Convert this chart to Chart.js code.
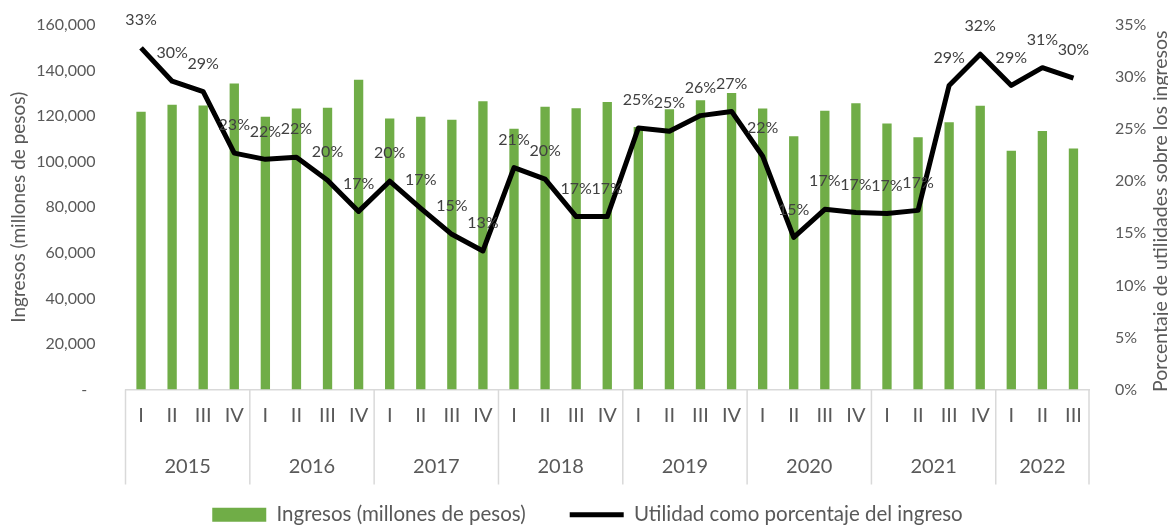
<!DOCTYPE html>
<html lang="es">
<head>
<meta charset="utf-8">
<title>Ingresos y utilidad</title>
<script src="https://cdn.jsdelivr.net/npm/chart.js"></script>
<style>
  body { margin: 0; background: #fff; }
  .wrap { width: 1168px; height: 526px; }
</style>
</head>
<body>
<div class="wrap"><canvas id="chart"></canvas></div>
<script>
const quarters = ['I', 'II', 'III', 'IV', 'I', 'II', 'III', 'IV', 'I', 'II', 'III', 'IV',
  'I', 'II', 'III', 'IV', 'I', 'II', 'III', 'IV', 'I', 'II', 'III', 'IV',
  'I', 'II', 'III', 'IV', 'I', 'II', 'III'];
const years = ['2015', '2016', '2017', '2018', '2019', '2020', '2021', '2022'];
const quartersPerYear = [4, 4, 4, 4, 4, 4, 4, 3];

// ingresos, millones de pesos
const ingresos = [121900, 125000, 124700, 134300, 119700, 123400, 123700, 136000,
  119000, 119700, 118400, 126500, 114500, 124100, 123500, 126200,
  115200, 123000, 127000, 130100, 123400, 111200, 122400, 125600,
  116800, 110700, 117300, 124600, 104800, 113500, 105800];
// utilidad como % del ingreso
const utilidad = [32.8, 29.6, 28.6, 22.7, 22.1, 22.3, 20.1, 17.1,
  20.0, 17.4, 14.9, 13.3, 21.3, 20.2, 16.6, 16.6,
  25.1, 24.8, 26.3, 26.7, 22.4, 14.6, 17.3, 17.0,
  16.9, 17.2, 29.2, 32.2, 29.2, 30.9, 29.9];

const gray = '#595959';
Chart.defaults.font.family = 'Lato';
Chart.defaults.color = gray;

// etiquetas de porcentaje sobre la linea
const pointLabels = {
  id: 'pointLabels',
  afterDatasetsDraw(chart) {
    const ctx = chart.ctx;
    const meta = chart.getDatasetMeta(1);
    ctx.save();
    ctx.font = '16px Lato';
    ctx.fillStyle = '#404040';
    ctx.textAlign = 'center';
    ctx.textBaseline = 'middle';
    meta.data.forEach((pt, i) => {
      ctx.fillText(Math.round(utilidad[i]) + '%', pt.x, pt.y - 28);
    });
    ctx.restore();
  }
};

// segunda fila del eje x: años y separadores
const yearAxis = {
  id: 'yearAxis',
  afterDraw(chart) {
    const x = chart.scales.x;
    const ctx = chart.ctx;
    const half = (x.getPixelForValue(1) - x.getPixelForValue(0)) / 2;
    ctx.save();
    ctx.strokeStyle = '#d9d9d9';
    ctx.lineWidth = 1.5;
    ctx.font = '20px Lato';
    ctx.fillStyle = gray;
    ctx.textAlign = 'center';
    ctx.textBaseline = 'middle';
    let start = 0;
    years.forEach((yr, i) => {
      const end = start + quartersPerYear[i] - 1;
      const l = x.getPixelForValue(start) - half;
      const r = x.getPixelForValue(end) + half;
      ctx.beginPath();
      ctx.moveTo(l, x.top);
      ctx.lineTo(l, x.top + 95);
      if (i === years.length - 1) {
        ctx.moveTo(r, x.top);
        ctx.lineTo(r, x.top + 95);
      }
      ctx.stroke();
      ctx.fillText(yr, (l + r) / 2, x.top + 77);
      start = end + 1;
    });
    ctx.restore();

    // titulo del eje derecho (de abajo hacia arriba)
    const a = chart.chartArea;
    ctx.save();
    ctx.translate(1161, (a.top + a.bottom) / 2 + 4);
    ctx.rotate(-Math.PI / 2);
    ctx.font = '19.5px Lato';
    ctx.fillStyle = gray;
    ctx.textAlign = 'center';
    ctx.textBaseline = 'middle';
    ctx.fillText('Porcentaje de utilidades sobre los ingresos', 0, 0);
    ctx.restore();
  }
};

const ctx = document.getElementById('chart').getContext('2d');
new Chart(ctx, {
  data: {
    labels: quarters,
    datasets: [
      {
        type: 'bar',
        label: 'Ingresos (millones de pesos)',
        data: ingresos,
        backgroundColor: '#70ad47',
        categoryPercentage: 1,
        barPercentage: 0.3,
        yAxisID: 'y',
        order: 1,
        pointStyle: 'rect'
      },
      {
        type: 'line',
        label: 'Utilidad como porcentaje del ingreso',
        data: utilidad,
        borderColor: '#000',
        backgroundColor: '#000',
        borderWidth: 5,
        borderJoinStyle: 'round',
        pointRadius: 0,
        tension: 0,
        yAxisID: 'y1',
        order: 0,
        pointStyle: 'line'
      }
    ]
  },
  options: {
    responsive: true,
    maintainAspectRatio: false,
    animation: false,
    layout: { padding: { top: 25, left: 7, right: 0, bottom: -9 } },
    plugins: {
      tooltip: { enabled: false },
      legend: {
        position: 'bottom',
        labels: {
          usePointStyle: true,
          pointStyleWidth: 54,
          boxWidth: 54,
          boxHeight: 14,
          padding: 2,
          font: { size: 20.5 },
          color: gray,
          sort: (a, b) => a.datasetIndex - b.datasetIndex,
          generateLabels(chart) {
            const items = Chart.defaults.plugins.legend.labels.generateLabels(chart);
            items.forEach(it => { if (it.datasetIndex === 0) it.text += '        '; });
            return items;
          }
        }
      }
    },
    scales: {
      x: {
        offset: true,
        grid: { display: false, drawTicks: false },
        border: { display: true, color: '#d9d9d9', width: 1.5 },
        ticks: { font: { size: 20 }, padding: 14, maxRotation: 0, autoSkip: false },
        afterFit(scale) { scale.height = 113; }
      },
      y: {
        position: 'left',
        min: 0,
        max: 160000,
        grid: { display: false },
        border: { display: false },
        ticks: {
          stepSize: 20000,
          padding: 22,
          font: { size: 16 },
          callback: v => v === 0 ? '-  ' : v.toLocaleString('en-US')
        },
        title: {
          display: true,
          text: 'Ingresos (millones de pesos)',
          font: { size: 19 },
          padding: 0
        },
        afterFit(scale) { scale.width = 118.5; scale.paddingTop = 0; scale.paddingBottom = 0; }
      },
      y1: {
        position: 'right',
        min: 0,
        max: 35,
        grid: { display: false },
        border: { display: false },
        ticks: {
          stepSize: 5,
          padding: 18,
          font: { size: 16 },
          callback: v => v + '%'
        },
        afterFit(scale) { scale.width = 79; scale.paddingTop = 0; scale.paddingBottom = 0; }
      }
    }
  },
  plugins: [pointLabels, yearAxis]
});
</script>
</body>
</html>
